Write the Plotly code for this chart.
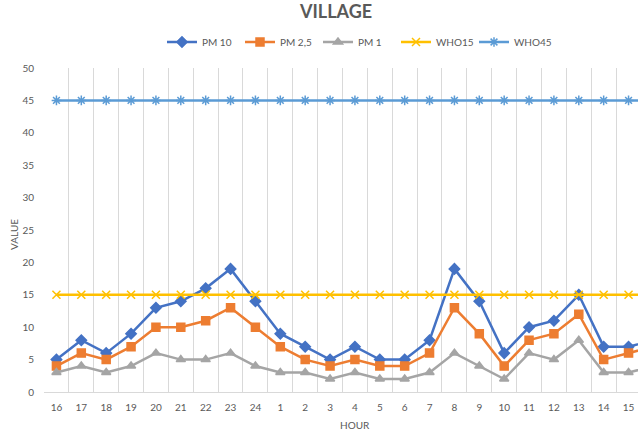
import plotly.graph_objects as go

# Hourly particulate readings, starting at 16:00 and wrapping past midnight
hours = ["16", "17", "18", "19", "20", "21", "22", "23", "24", "1", "2", "3",
         "4", "5", "6", "7", "8", "9", "10", "11", "12", "13", "14", "15", "16"]
pm10 = [5, 8, 6, 9, 13, 14, 16, 19, 14, 9, 7, 5, 7, 5, 5, 8, 19, 14, 6, 10, 11, 15, 7, 7, 8]
pm25 = [4, 6, 5, 7, 10, 10, 11, 13, 10, 7, 5, 4, 5, 4, 4, 6, 13, 9, 4, 8, 9, 12, 5, 6, 7]
pm1 = [3, 4, 3, 4, 6, 5, 5, 6, 4, 3, 3, 2, 3, 2, 2, 3, 6, 4, 2, 6, 5, 8, 3, 3, 4]
who15_level = 15
who45_level = 45

x = list(range(len(hours)))
who15 = [who15_level] * len(hours)
who45 = [who45_level] * len(hours)

series = [
    ("PM 10", pm10, "#4472C4", "diamond", 8),
    ("PM 2,5", pm25, "#ED7D31", "square", 8),
    ("PM 1", pm1, "#A5A5A5", "triangle-up", 8),
    ("WHO15", who15, "#FFC000", "x-thin-open", 8),
    ("WHO45", who45, "#5B9BD5", "asterisk-open", 8),
]

fig = go.Figure()
for name, vals, color, symbol, size in series:
    fig.add_trace(go.Scatter(
        x=x, y=vals, name=name, mode="lines+markers",
        line=dict(color=color, width=2.5),
        marker=dict(symbol=symbol, size=size, color=color,
                    line=dict(color=color, width=1.5)),
    ))

font_family = "Lato, 'Open Sans', sans-serif"
tick_color = "#595959"

# Plot area spans x 44..638 px and y 68..392 px
def px_x(p):
    return (p - 44) / 594

def px_y(p):
    return (392 - p) / 324

fig.update_layout(
    width=638, height=432,
    margin=dict(l=44, r=0, t=68, b=40),
    paper_bgcolor="white", plot_bgcolor="white",
    font=dict(family=font_family, color=tick_color, size=11),
    showlegend=True,
    legend=dict(orientation="h", x=px_x(162), xanchor="left",
                y=px_y(42), yanchor="middle",
                font=dict(size=10, color=tick_color),
                itemwidth=30, entrywidth=33, entrywidthmode="pixels",
                traceorder="normal"),
    xaxis=dict(
        range=[-0.5, 23.38],
        tickmode="array", tickvals=x, ticktext=hours,
        showgrid=False, zeroline=False,
        showline=True, linecolor="#D9D9D9", linewidth=1,
        ticks="", ticklabelstandoff=6,
        tickfont=dict(size=10, color=tick_color),
        minor=dict(tick0=0.5, dtick=1, showgrid=True, gridcolor="#D9D9D9",
                   gridwidth=1, ticks=""),
    ),
    yaxis=dict(
        range=[0, 50], dtick=5, tick0=0,
        showgrid=False, zeroline=False, showline=False,
        ticks="", ticklabelstandoff=9,
        tickfont=dict(size=10, color=tick_color),
    ),
    annotations=[
        dict(text="<b>VILLAGE</b>", x=px_x(335), y=px_y(11),
             xref="paper", yref="paper", xanchor="center", yanchor="middle",
             showarrow=False,
             font=dict(size=18, color="#595959", family=font_family)),
        dict(text="HOUR", x=px_x(355), y=px_y(425),
             xref="paper", yref="paper", xanchor="center", yanchor="middle",
             showarrow=False, font=dict(size=10, color=tick_color)),
        dict(text="VALUE", x=px_x(14), y=px_y(235),
             xref="paper", yref="paper", xanchor="center", yanchor="middle",
             showarrow=False, textangle=-90, font=dict(size=10, color=tick_color)),
    ],
)

fig.write_html("out.html")
